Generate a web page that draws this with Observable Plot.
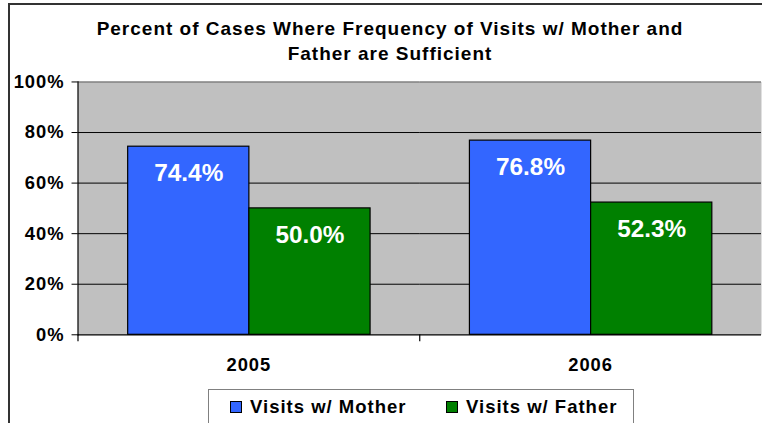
<!DOCTYPE html>
<html>
<head>
<meta charset="utf-8">
<script src="https://cdn.jsdelivr.net/npm/d3@7"></script>
<script src="https://cdn.jsdelivr.net/npm/@observablehq/plot@0.6"></script>
<style>
  html, body { margin: 0; padding: 0; background: #fff; }
  #wrap { position: relative; width: 762px; height: 423px; overflow: hidden; background: #fff;
          font-family: "Liberation Sans", Arial, sans-serif; font-weight: bold; color: #000; }
  #border { position: absolute; left: 8px; top: 3px; width: 800px; height: 500px; border: 2px solid #333; box-sizing: border-box; }
  #title { position: absolute; left: 8px; top: 16px; width: 764px; text-align: center; font-size: 19px;
           letter-spacing: 1px; line-height: 25px; }
  #chart { position: absolute; left: 0; top: 0; }
  #chart g[aria-label$="tick label"] text { letter-spacing: 1px; }
  #legend { position: absolute; left: 208px; top: 389px; width: 426px; height: 60px; box-sizing: border-box;
            border: 1.5px solid #808080; background: #fff; }
  .item { position: absolute; top: 7px; display: flex; align-items: center; gap: 8px; font-size: 18.5px;
          letter-spacing: 1px; line-height: 20px; white-space: nowrap; }
  .sw { width: 10px; height: 10px; border: 1px solid #000; }
</style>
</head>
<body>
<div id="wrap">
  <div id="border"></div>
  <div id="chart"></div>
  <div id="title"></div>
  <div id="legend"></div>
</div>
<script>
// ---- data ----
const years = ["2005", "2006"];
const seriesNames = ["Visits w/ Mother", "Visits w/ Father"];
const motherValues = [74.4, 76.8];
const fatherValues = [50.0, 52.3];
const yTicks = [0, 20, 40, 60, 80, 100];
const seriesColors = ["#3366FF", "#008000"];
const titleLines = ["Percent of Cases Where Frequency of Visits w/ Mother and", "Father are Sufficient"];

const data = years.flatMap((yr, i) => [
  {year: yr, series: seriesNames[0], value: motherValues[i]},
  {year: yr, series: seriesNames[1], value: fatherValues[i]}
]);

const chart = Plot.plot({
  width: 767,
  height: 380,
  marginLeft: 77.5,
  marginRight: 0.5,
  marginTop: 82,
  marginBottom: 43.5,
  style: {background: "transparent", fontFamily: "'Liberation Sans', Arial, sans-serif", fontWeight: "bold", color: "#000", overflow: "visible"},
  fx: {domain: years, padding: 0, label: null},
  x: {domain: seriesNames, paddingInner: 0, paddingOuter: 0.4, axis: null, label: null},
  y: {domain: [0, 100], label: null},
  color: {domain: seriesNames, range: seriesColors},
  marks: [
    Plot.frame({fill: "#C0C0C0", stroke: null, facet: "super"}),
    Plot.ruleY(yTicks.filter(v => v > 0 && v < 100), {stroke: "#000", strokeWidth: 1}),
    Plot.ruleY([100], {stroke: "#808080", strokeWidth: 1.6}),
    Plot.barY(data, {fx: "year", x: "series", y: "value", fill: "series", stroke: "#000", strokeWidth: 1.2}),
    Plot.text(data, {fx: "year", x: "series", y: "value", text: d => d.value.toFixed(1) + "%",
      fill: "#fff", dy: 27, fontSize: 24.5, fontWeight: "bold"}),
    Plot.ruleY([0], {stroke: "#000", strokeWidth: 1.2}),
    Plot.frame({anchor: "left", stroke: "#000", strokeWidth: 1.2, insetTop: 254.5, insetBottom: -6}),
    Plot.frame({anchor: "left", stroke: "#000", strokeWidth: 1.2, facet: "super"}),
    Plot.axisY({ticks: yTicks, tickSize: 6, tickPadding: 7.5, tickFormat: d => d + "%",
      fontSize: 18.5, fontWeight: "bold", stroke: "#000", label: null}),
    Plot.axisFx({anchor: "bottom", tickSize: 0, tickPadding: 23.7, fontSize: 18.5, fontWeight: "bold", label: null})
  ]
});
document.getElementById("chart").appendChild(chart);

// title
const t = document.getElementById("title");
titleLines.forEach(line => { const d = document.createElement("div"); d.textContent = line; t.appendChild(d); });

// legend
const lg = document.getElementById("legend");
const itemLefts = [21, 237];
seriesNames.forEach((name, i) => {
  const it = document.createElement("div");
  it.className = "item";
  it.style.left = itemLefts[i] + "px";
  const sw = document.createElement("span");
  sw.className = "sw";
  sw.style.background = seriesColors[i];
  const tx = document.createElement("span");
  tx.textContent = name;
  it.appendChild(sw); it.appendChild(tx);
  lg.appendChild(it);
});
</script>
</body>
</html>
